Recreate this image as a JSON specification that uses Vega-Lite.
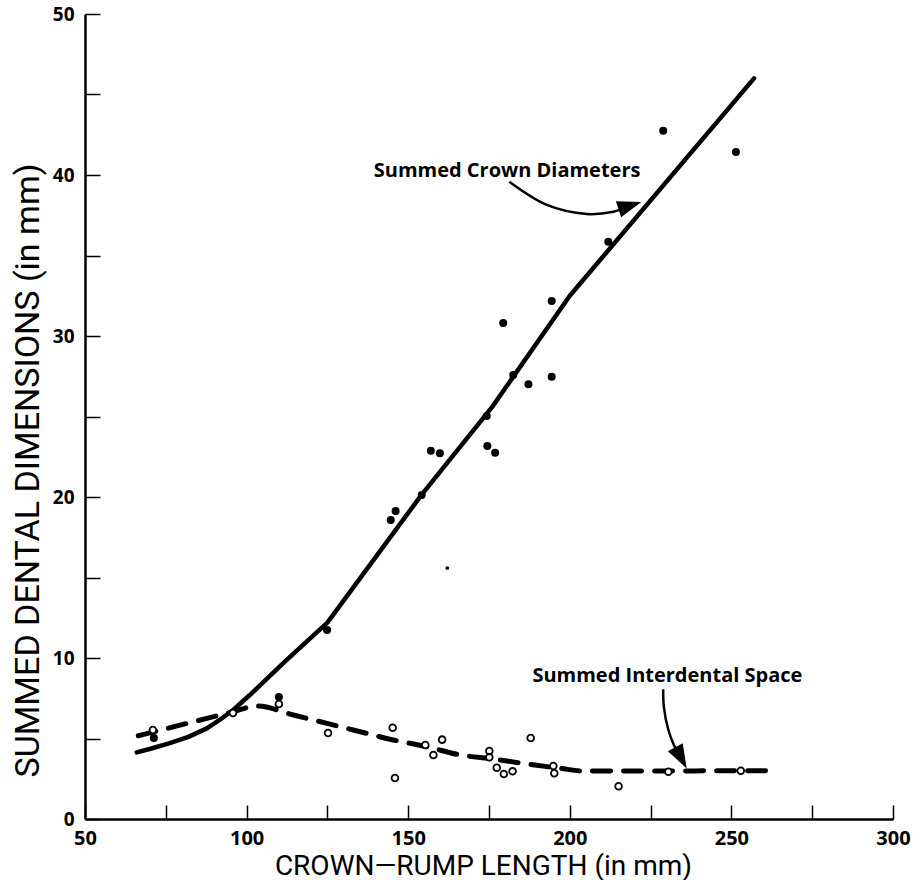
{
  "$schema": "https://vega.github.io/schema/vega-lite/v6.json",
  "width": 808,
  "height": 805,
  "autosize": {"type": "none"},
  "padding": {"left": 85, "top": 14, "right": 27, "bottom": 61},
  "background": "white",
  "config": {
    "view": {"stroke": null},
    "axis": {
      "domainColor": "black",
      "tickColor": "black",
      "labelColor": "black",
      "titleColor": "black",
      "grid": false,
      "labelFont": "Open Sans",
      "labelFontWeight": "bold",
      "titleFont": "Roboto, sans-serif",
      "titleFontWeight": "normal"
    }
  },
  "datasets": {
    "crown_line": [
      {"crl": 66.0, "value": 4.14},
      {"crl": 70.0, "value": 4.35},
      {"crl": 76.0, "value": 4.7},
      {"crl": 82.0, "value": 5.1},
      {"crl": 87.7, "value": 5.63},
      {"crl": 92.0, "value": 6.2},
      {"crl": 96.0, "value": 6.8},
      {"crl": 101.0, "value": 7.7},
      {"crl": 106.0, "value": 8.65},
      {"crl": 112.0, "value": 9.8},
      {"crl": 119.0, "value": 11.1},
      {"crl": 125.0, "value": 12.2},
      {"crl": 154.0, "value": 20.1},
      {"crl": 176.0, "value": 25.6},
      {"crl": 200.0, "value": 32.5},
      {"crl": 257.0, "value": 46.0}
    ],
    "space_line": [
      {"crl": 66.5, "value": 5.17},
      {"crl": 87.7, "value": 6.25},
      {"crl": 95.8, "value": 6.66},
      {"crl": 103.1, "value": 7.02},
      {"crl": 114.5, "value": 6.46},
      {"crl": 133.0, "value": 5.53},
      {"crl": 145.4, "value": 4.91},
      {"crl": 155.7, "value": 4.49},
      {"crl": 166.0, "value": 3.98},
      {"crl": 176.3, "value": 3.73},
      {"crl": 186.7, "value": 3.42},
      {"crl": 197.0, "value": 3.15},
      {"crl": 204.2, "value": 2.98},
      {"crl": 261.9, "value": 3.0}
    ],
    "crown_points": [
      {"crl": 71.3, "value": 5.03},
      {"crl": 110.0, "value": 7.58},
      {"crl": 124.9, "value": 11.74},
      {"crl": 144.6, "value": 18.57},
      {"crl": 146.1, "value": 19.13},
      {"crl": 154.2, "value": 20.12},
      {"crl": 157.0, "value": 22.88},
      {"crl": 159.8, "value": 22.71},
      {"crl": 174.3, "value": 25.03},
      {"crl": 174.5, "value": 23.17},
      {"crl": 176.9, "value": 22.75},
      {"crl": 179.4, "value": 30.81},
      {"crl": 182.5, "value": 27.58},
      {"crl": 187.2, "value": 27.0},
      {"crl": 194.4, "value": 27.47},
      {"crl": 194.4, "value": 32.17},
      {"crl": 211.9, "value": 35.86},
      {"crl": 228.9, "value": 42.75},
      {"crl": 251.4, "value": 41.43}
    ],
    "crown_points_small": [
      {"crl": 162.1, "value": 15.59}
    ],
    "space_points": [
      {"crl": 71.0, "value": 5.53},
      {"crl": 95.8, "value": 6.58},
      {"crl": 110.0, "value": 7.14},
      {"crl": 125.2, "value": 5.34},
      {"crl": 145.2, "value": 5.67},
      {"crl": 145.9, "value": 2.55},
      {"crl": 155.3, "value": 4.6},
      {"crl": 157.8, "value": 3.98},
      {"crl": 160.5, "value": 4.93},
      {"crl": 175.1, "value": 4.22},
      {"crl": 175.1, "value": 3.83},
      {"crl": 177.4, "value": 3.19},
      {"crl": 179.6, "value": 2.8},
      {"crl": 182.3, "value": 2.96},
      {"crl": 187.9, "value": 5.03},
      {"crl": 194.9, "value": 3.29},
      {"crl": 195.2, "value": 2.84},
      {"crl": 215.1, "value": 2.03},
      {"crl": 230.5, "value": 2.94},
      {"crl": 252.9, "value": 3.0}
    ],
    "labels": [
      {"crl": 180.6, "value": 39.9, "text": "Summed Crown Diameters"},
      {"crl": 230.2, "value": 8.53, "text": "Summed Interdental Space"}
    ],
    "arrow_paths": [
      {"arrow": "crown", "order": 1, "crl": 181.3, "value": 39.58},
      {"arrow": "crown", "order": 2, "crl": 192.9, "value": 38.14},
      {"arrow": "crown", "order": 3, "crl": 205.2, "value": 37.58},
      {"arrow": "crown", "order": 4, "crl": 213.5, "value": 37.72},
      {"arrow": "crown", "order": 5, "crl": 217.8, "value": 38.0},
      {"arrow": "space", "order": 1, "crl": 228.9, "value": 8.06},
      {"arrow": "space", "order": 2, "crl": 229.1, "value": 6.97},
      {"arrow": "space", "order": 3, "crl": 230.5, "value": 5.53},
      {"arrow": "space", "order": 4, "crl": 232.2, "value": 4.6},
      {"arrow": "space", "order": 5, "crl": 233.8, "value": 4.0}
    ],
    "arrow_heads": [
      {"arrow": "crown", "crl": 218.6, "value": 38.1},
      {"arrow": "space", "crl": 234.4, "value": 3.8}
    ]
  },
  "encoding": {
    "x": {
      "field": "crl",
      "type": "quantitative",
      "scale": {"domain": [50, 300], "nice": false, "zero": false},
      "axis": {
        "values": [50, 75, 100, 125, 150, 175, 200, 225, 250, 275, 300],
        "labelExpr": "datum.value % 50 === 0 ? datum.label : ''",
        "labelFontSize": 20,
        "labelPadding": 23,
        "tickSize": -14,
        "tickWidth": 1.5,
        "domainWidth": 2.5,
        "labelFlush": false,
        "labelOverlap": false,
        "title": "CROWN—RUMP LENGTH (in mm)",
        "titleFontSize": 28,
        "titleX": 398,
        "titleY": 55,
        "titleAlign": "center",
        "titleAnchor": "start",
        "titleBaseline": "alphabetic"
      }
    },
    "y": {
      "field": "value",
      "type": "quantitative",
      "scale": {"domain": [0, 50], "nice": false},
      "axis": {
        "values": [0, 5, 10, 15, 20, 25, 30, 35, 40, 45, 50],
        "labelExpr": "datum.value % 10 === 0 ? datum.label : ''",
        "labelFontSize": 19,
        "labelPadding": 26,
        "tickSize": -15,
        "tickWidth": 1.5,
        "domainWidth": 2.5,
        "labelFlush": false,
        "labelOverlap": false,
        "title": "SUMMED DENTAL DIMENSIONS (in mm)",
        "titleFontSize": 34,
        "titleAngle": -90,
        "titleX": -57,
        "titleY": 456,
        "titleAlign": "center",
        "titleAnchor": "start",
        "titleBaseline": "middle"
      }
    }
  },
  "layer": [
    {
      "data": {"name": "crown_line"},
      "mark": {"type": "line", "color": "black", "strokeWidth": 4.5, "interpolate": "linear", "strokeCap": "round", "strokeJoin": "round"}
    },
    {
      "data": {"name": "space_line"},
      "mark": {"type": "line", "color": "black", "strokeWidth": 5, "interpolate": "monotone", "strokeDash": [18, 13], "strokeCap": "round"}
    },
    {
      "data": {"name": "crown_points"},
      "mark": {"type": "point", "shape": "circle", "filled": true, "color": "black", "size": 64, "opacity": 1}
    },
    {
      "data": {"name": "crown_points_small"},
      "mark": {"type": "point", "shape": "circle", "filled": true, "color": "black", "size": 14, "opacity": 1}
    },
    {
      "data": {"name": "space_points"},
      "mark": {"type": "point", "shape": "circle", "filled": true, "fill": "white", "stroke": "black", "strokeWidth": 1.8, "size": 45, "opacity": 1}
    },
    {
      "data": {"name": "labels"},
      "mark": {"type": "text", "font": "Open Sans", "fontWeight": "bold", "fontSize": 20, "align": "center", "baseline": "alphabetic", "color": "black"},
      "encoding": {"text": {"field": "text"}}
    },
    {
      "data": {"name": "arrow_paths"},
      "mark": {"type": "line", "color": "black", "strokeWidth": 2.5, "interpolate": "catmull-rom"},
      "encoding": {
        "detail": {"field": "arrow"},
        "order": {"field": "order", "type": "quantitative"}
      }
    },
    {
      "data": {"name": "arrow_heads"},
      "transform": [{"filter": "datum.arrow === 'crown'"}],
      "mark": {"type": "point", "shape": "M1,0L-1,-0.7L-1,0.7Z", "filled": true, "color": "black", "size": 576, "angle": -18, "opacity": 1}
    },
    {
      "data": {"name": "arrow_heads"},
      "transform": [{"filter": "datum.arrow === 'space'"}],
      "mark": {"type": "point", "shape": "M1,0L-1,-0.7L-1,0.7Z", "filled": true, "color": "black", "size": 576, "angle": 62, "opacity": 1}
    }
  ]
}
